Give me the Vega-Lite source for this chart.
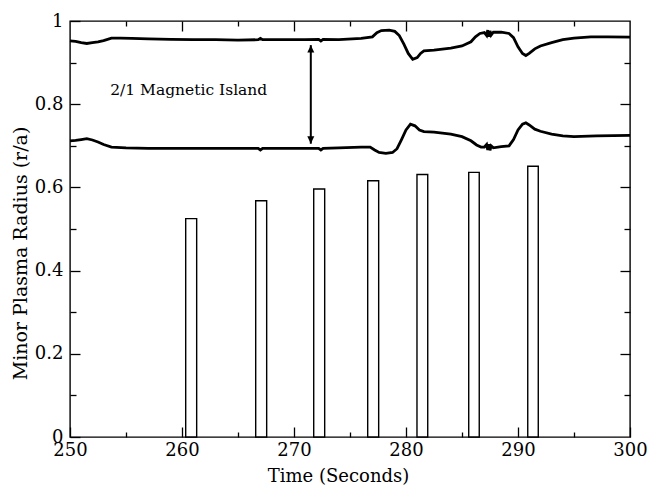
{
  "$schema": "https://vega.github.io/schema/vega-lite/v6.json",
  "width": 560,
  "height": 416,
  "autosize": {"type": "none"},
  "padding": {"left": 70, "top": 21, "right": 19, "bottom": 48},
  "background": "white",
  "config": {
    "view": {"stroke": "black", "strokeWidth": 1.4},
    "font": "DejaVu Serif",
    "axis": {
      "domain": false,
      "grid": false,
      "tickColor": "black",
      "tickWidth": 1.3,
      "labelFont": "DejaVu Serif",
      "labelFontSize": 18,
      "labelColor": "black",
      "labelFlush": false,
      "labelOverlap": false,
      "labelBound": false,
      "titleFont": "DejaVu Serif",
      "titleFontSize": 18,
      "titleFontWeight": "normal",
      "titleColor": "black"
    }
  },
  "datasets": {
    "bars": [
      {"start": 260.33, "end": 261.31, "radius": 0.525},
      {"start": 266.58, "end": 267.56, "radius": 0.568},
      {"start": 271.76, "end": 272.74, "radius": 0.596},
      {"start": 276.58, "end": 277.56, "radius": 0.616},
      {"start": 280.98, "end": 281.94, "radius": 0.631},
      {"start": 285.6, "end": 286.54, "radius": 0.636},
      {"start": 290.87, "end": 291.81, "radius": 0.651}
    ],
    "outer": [
      {"t": 250.0, "r": 0.952}, {"t": 250.5, "r": 0.951}, {"t": 251.0, "r": 0.948},
      {"t": 251.5, "r": 0.946}, {"t": 252.0, "r": 0.948}, {"t": 252.5, "r": 0.95},
      {"t": 253.0, "r": 0.953}, {"t": 253.7, "r": 0.959}, {"t": 254.5, "r": 0.959},
      {"t": 255.5, "r": 0.958}, {"t": 257.0, "r": 0.957}, {"t": 259.0, "r": 0.956},
      {"t": 261.0, "r": 0.955}, {"t": 263.0, "r": 0.955}, {"t": 265.0, "r": 0.954},
      {"t": 266.8, "r": 0.955}, {"t": 267.0, "r": 0.958}, {"t": 267.2, "r": 0.955},
      {"t": 269.0, "r": 0.955}, {"t": 271.0, "r": 0.955}, {"t": 272.2, "r": 0.956},
      {"t": 272.4, "r": 0.952}, {"t": 272.6, "r": 0.956}, {"t": 274.0, "r": 0.955},
      {"t": 276.0, "r": 0.958}, {"t": 277.0, "r": 0.962}, {"t": 277.4, "r": 0.972},
      {"t": 277.8, "r": 0.977}, {"t": 278.5, "r": 0.978}, {"t": 279.0, "r": 0.975},
      {"t": 279.4, "r": 0.965}, {"t": 279.8, "r": 0.945}, {"t": 280.2, "r": 0.922},
      {"t": 280.6, "r": 0.908}, {"t": 281.0, "r": 0.912}, {"t": 281.3, "r": 0.922},
      {"t": 281.6, "r": 0.928}, {"t": 282.5, "r": 0.93}, {"t": 284.0, "r": 0.935},
      {"t": 285.0, "r": 0.94}, {"t": 285.8, "r": 0.95}, {"t": 286.2, "r": 0.962},
      {"t": 286.6, "r": 0.97}, {"t": 287.0, "r": 0.972}, {"t": 287.2, "r": 0.965},
      {"t": 287.3, "r": 0.978}, {"t": 287.4, "r": 0.962}, {"t": 287.5, "r": 0.976},
      {"t": 287.6, "r": 0.966}, {"t": 287.8, "r": 0.973}, {"t": 288.5, "r": 0.973},
      {"t": 289.2, "r": 0.97}, {"t": 289.6, "r": 0.96}, {"t": 290.0, "r": 0.938},
      {"t": 290.4, "r": 0.922}, {"t": 290.7, "r": 0.917}, {"t": 291.0, "r": 0.922},
      {"t": 291.5, "r": 0.933}, {"t": 292.0, "r": 0.94}, {"t": 293.0, "r": 0.948},
      {"t": 294.0, "r": 0.955}, {"t": 295.0, "r": 0.959}, {"t": 296.5, "r": 0.962},
      {"t": 298.0, "r": 0.962}, {"t": 300.0, "r": 0.961}
    ],
    "inner": [
      {"t": 250.0, "r": 0.712}, {"t": 250.5, "r": 0.713}, {"t": 251.0, "r": 0.715},
      {"t": 251.5, "r": 0.717}, {"t": 252.0, "r": 0.714}, {"t": 252.5, "r": 0.709},
      {"t": 253.0, "r": 0.703}, {"t": 253.7, "r": 0.697}, {"t": 255.0, "r": 0.695},
      {"t": 257.0, "r": 0.694}, {"t": 260.0, "r": 0.694}, {"t": 263.0, "r": 0.694},
      {"t": 265.0, "r": 0.694}, {"t": 266.8, "r": 0.694}, {"t": 267.0, "r": 0.69},
      {"t": 267.2, "r": 0.694}, {"t": 270.0, "r": 0.694}, {"t": 272.2, "r": 0.694},
      {"t": 272.4, "r": 0.69}, {"t": 272.6, "r": 0.694}, {"t": 274.0, "r": 0.695},
      {"t": 276.0, "r": 0.697}, {"t": 276.8, "r": 0.697}, {"t": 277.2, "r": 0.69},
      {"t": 277.6, "r": 0.684}, {"t": 278.2, "r": 0.682}, {"t": 278.8, "r": 0.684},
      {"t": 279.2, "r": 0.693}, {"t": 279.6, "r": 0.715}, {"t": 280.0, "r": 0.738},
      {"t": 280.4, "r": 0.752}, {"t": 280.8, "r": 0.748}, {"t": 281.2, "r": 0.738},
      {"t": 281.6, "r": 0.734}, {"t": 282.5, "r": 0.733}, {"t": 284.0, "r": 0.728},
      {"t": 285.0, "r": 0.722}, {"t": 285.8, "r": 0.712}, {"t": 286.3, "r": 0.702},
      {"t": 286.7, "r": 0.697}, {"t": 287.0, "r": 0.697}, {"t": 287.2, "r": 0.703},
      {"t": 287.3, "r": 0.69}, {"t": 287.4, "r": 0.704}, {"t": 287.5, "r": 0.689},
      {"t": 287.6, "r": 0.7}, {"t": 287.8, "r": 0.695}, {"t": 288.5, "r": 0.698},
      {"t": 289.2, "r": 0.7}, {"t": 289.6, "r": 0.715}, {"t": 290.0, "r": 0.738},
      {"t": 290.4, "r": 0.752}, {"t": 290.7, "r": 0.755}, {"t": 291.0, "r": 0.75},
      {"t": 291.5, "r": 0.74}, {"t": 292.0, "r": 0.735}, {"t": 293.0, "r": 0.728},
      {"t": 294.0, "r": 0.724}, {"t": 295.0, "r": 0.722}, {"t": 297.0, "r": 0.724},
      {"t": 300.0, "r": 0.725}
    ],
    "island": [
      {"t": 271.5, "top": 0.942, "bottom": 0.705}
    ],
    "label": [
      {"t": 260.6, "r": 0.833, "text": "2/1 Magnetic Island"}
    ]
  },
  "resolve": {"axis": {"x": "independent", "y": "independent"}},
  "layer": [
    {
      "data": {"name": "bars"},
      "mark": {"type": "rect", "fill": "white", "stroke": "black", "strokeWidth": 1.4},
      "encoding": {
        "x": {
          "field": "start", "type": "quantitative",
          "scale": {"domain": [250, 300], "nice": false, "zero": false},
          "axis": {
            "orient": "bottom", "values": [250, 260, 270, 280, 290, 300],
            "tickSize": -10, "labelPadding": 14, "title": "Time (Seconds)",
            "titleX": 268, "titleY": 44, "titleBaseline": "alphabetic", "titleAnchor": "middle"
          }
        },
        "x2": {"field": "end"},
        "y": {
          "field": "radius", "type": "quantitative",
          "scale": {"domain": [0, 1], "nice": false},
          "axis": {
            "orient": "left", "values": [0, 0.2, 0.4, 0.6, 0.8, 1],
            "labelExpr": "'' + datum.value",
            "tickSize": -10, "labelPadding": 17, "title": "Minor Plasma Radius (r/a)",
            "titleFontSize": 19,
            "titleX": -44, "titleY": 232, "titleBaseline": "alphabetic", "titleAngle": -90
          }
        },
        "y2": {"datum": 0}
      }
    },
    {
      "data": {"name": "outer"},
      "mark": {"type": "line", "color": "black", "strokeWidth": 2.8},
      "encoding": {
        "x": {
          "field": "t", "type": "quantitative",
          "axis": {"orient": "bottom", "values": [255, 265, 275, 285, 295], "tickSize": -5, "labels": false, "title": null}
        },
        "y": {
          "field": "r", "type": "quantitative",
          "axis": {"orient": "left", "values": [0.1, 0.3, 0.5, 0.7, 0.9], "tickSize": -6, "labels": false, "title": null}
        }
      }
    },
    {
      "data": {"name": "inner"},
      "mark": {"type": "line", "color": "black", "strokeWidth": 2.8},
      "encoding": {
        "x": {
          "field": "t", "type": "quantitative",
          "axis": {"orient": "top", "values": [260, 270, 280, 290], "tickSize": -10, "labels": false, "title": null}
        },
        "y": {
          "field": "r", "type": "quantitative",
          "axis": {"orient": "right", "values": [0.2, 0.4, 0.6, 0.8], "tickSize": -10, "labels": false, "title": null}
        }
      }
    },
    {
      "data": {"name": "island"},
      "mark": {"type": "rule", "color": "black", "strokeWidth": 2},
      "encoding": {
        "x": {
          "field": "t", "type": "quantitative",
          "axis": {"orient": "top", "values": [255, 265, 275, 285, 295], "tickSize": -5, "labels": false, "title": null}
        },
        "y": {
          "field": "top", "type": "quantitative",
          "axis": {"orient": "right", "values": [0.1, 0.3, 0.5, 0.7, 0.9], "tickSize": -6, "labels": false, "title": null}
        },
        "y2": {"field": "bottom"}
      }
    },
    {
      "data": {"name": "island"},
      "mark": {"type": "point", "shape": "M0,0L-1,2.1L1,2.1Z", "size": 49, "filled": true, "color": "black", "opacity": 1},
      "encoding": {
        "x": {"field": "t", "type": "quantitative", "axis": null},
        "y": {"field": "top", "type": "quantitative", "axis": null}
      }
    },
    {
      "data": {"name": "island"},
      "mark": {"type": "point", "shape": "M0,0L-1,-2.1L1,-2.1Z", "size": 49, "filled": true, "color": "black", "opacity": 1},
      "encoding": {
        "x": {"field": "t", "type": "quantitative", "axis": null},
        "y": {"field": "bottom", "type": "quantitative", "axis": null}
      }
    },
    {
      "data": {"name": "label"},
      "mark": {"type": "text", "font": "DejaVu Serif", "fontSize": 15.5, "color": "black", "align": "center", "baseline": "middle"},
      "encoding": {
        "x": {"field": "t", "type": "quantitative", "axis": null},
        "y": {"field": "r", "type": "quantitative", "axis": null},
        "text": {"field": "text"}
      }
    }
  ]
}
